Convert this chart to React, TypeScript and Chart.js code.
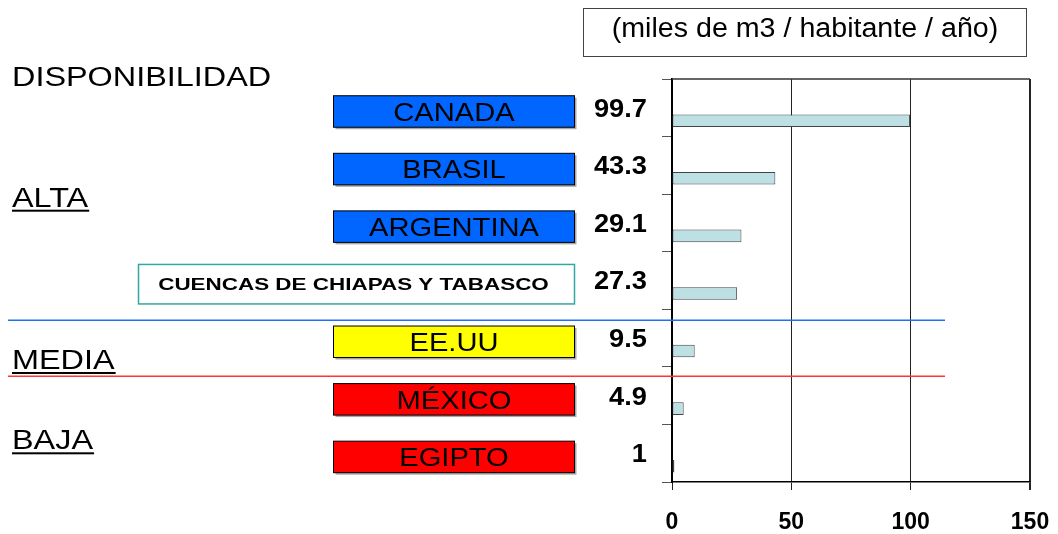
import React, { useEffect, useRef } from 'react';
import { Chart, registerables } from 'chart.js';

Chart.register(...registerables);

// ---- data ----
const categories = [
  'CANADA',
  'BRASIL',
  'ARGENTINA',
  'CUENCAS DE CHIAPAS Y TABASCO',
  'EE.UU',
  'MÉXICO',
  'EGIPTO',
];
const values = [99.7, 43.3, 29.1, 27.3, 9.5, 4.9, 1];
const valueLabels = ['99.7', '43.3', '29.1', '27.3', '9.5', '4.9', '1'];
const boxFills = ['#0066ff', '#0066ff', '#0066ff', '#ffffff', '#ffff00', '#ff0000', '#ff0000'];
const xTickValues = [0, 50, 100, 150];
const unitsLabel = '(miles de m3 / habitante / año)';
const titleLabel = 'DISPONIBILIDAD';
const groupLabels = ['ALTA', 'MEDIA', 'BAJA'];

const FONT = '"Liberation Sans", Arial, Helvetica, sans-serif';

function drawText(
  ctx: CanvasRenderingContext2D,
  text: string,
  x: number,
  y: number,
  size: number,
  bold: boolean,
  align: CanvasTextAlign,
  sx: number,
  color = '#000'
) {
  ctx.save();
  ctx.font = `${bold ? 'bold ' : ''}${size}px ${FONT}`;
  ctx.textAlign = align;
  ctx.textBaseline = 'alphabetic';
  ctx.fillStyle = color;
  ctx.translate(x, y);
  ctx.scale(sx, 1);
  ctx.fillText(text, 0, 0);
  const w = ctx.measureText(text).width * sx;
  ctx.restore();
  return w;
}

const decorPlugin = {
  id: 'decor',
  afterDraw(chart: any) {
    const { ctx, chartArea } = chart;
    const y = chart.scales.y;
    const band = y.getPixelForValue(1) - y.getPixelForValue(0);
    ctx.save();

    // top border of plot
    ctx.strokeStyle = '#333';
    ctx.lineWidth = 1.5;
    ctx.beginPath();
    ctx.moveTo(chartArea.left, chartArea.top);
    ctx.lineTo(chartArea.right, chartArea.top);
    ctx.stroke();

    // units box
    ctx.strokeStyle = '#444';
    ctx.lineWidth = 1;
    ctx.strokeRect(583.5, 8.5, 443, 48);
    drawText(ctx, unitsLabel, 805, 37, 27, false, 'center', 1.06);

    // left labels
    drawText(ctx, titleLabel, 12, 86, 27, false, 'left', 1.2);
    const groupBaselines = [206.7, 369, 449.3];
    groupLabels.forEach((g, i) => {
      const w = drawText(ctx, g, 12, groupBaselines[i], 27, false, 'left', 1.2);
      ctx.fillStyle = '#000';
      ctx.fillRect(12, groupBaselines[i] + 3, w + 1, 2);
    });

    // category boxes
    categories.forEach((c, i) => {
      const cy = y.getPixelForValue(i) + 3.7;
      if (boxFills[i] === '#ffffff') {
        const x0 = 138.5, x1 = 574.5, h = 39.5;
        ctx.fillStyle = '#ffffff';
        ctx.fillRect(x0, cy - h / 2, x1 - x0, h);
        ctx.strokeStyle = '#2fa8a2';
        ctx.lineWidth = 1.5;
        ctx.strokeRect(x0, cy - h / 2, x1 - x0, h);
        drawText(ctx, c, 353.5, cy + 17 * 0.358, 17, true, 'center', 1.32);
      } else {
        const x0 = 333.5, x1 = 574.5, h = 31.5;
        ctx.fillStyle = '#a8a8a8';
        ctx.fillRect(x0 + 2, cy - h / 2 + 2, x1 - x0, h);
        ctx.fillStyle = boxFills[i];
        ctx.fillRect(x0, cy - h / 2, x1 - x0, h);
        ctx.strokeStyle = '#000';
        ctx.lineWidth = 1;
        ctx.strokeRect(x0, cy - h / 2, x1 - x0, h);
        drawText(ctx, c, (x0 + x1) / 2, cy + 26 * 0.358, 26, false, 'center', 1.12);
      }
    });

    // value labels
    valueLabels.forEach((v, i) => {
      const cy = y.getPixelForValue(i);
      drawText(ctx, v, chartArea.left - 25, cy + 25 * 0.358, 25, true, 'right', 1.09);
    });

    // separator lines
    const b34 = y.getPixelForValue(3) + band / 2;
    const b45 = y.getPixelForValue(4) + band / 2;
    ctx.lineWidth = 1.5;
    ctx.strokeStyle = '#1f6ff5';
    ctx.beginPath();
    ctx.moveTo(8, b34 + 11);
    ctx.lineTo(945, b34 + 11);
    ctx.stroke();
    ctx.strokeStyle = '#ff3434';
    ctx.beginPath();
    ctx.moveTo(8, b45 + 9.5);
    ctx.lineTo(945, b45 + 9.5);
    ctx.stroke();

    ctx.restore();
  },
};

export default function App() {
  const canvasRef = useRef<HTMLCanvasElement | null>(null);

  useEffect(() => {
    document.body.style.margin = '0';
    const canvas = canvasRef.current;
    if (!canvas) return;
    const chart = new Chart(canvas, {
      type: 'bar',
      data: {
        labels: categories,
        datasets: [
          {
            label: 'spacer',
            data: categories.map(() => null),
            backgroundColor: 'rgba(0,0,0,0)',
          },
          {
            label: 'Disponibilidad',
            data: values,
            backgroundColor: '#bce0e3',
            borderColor: '#444',
            borderWidth: 1,
            borderSkipped: false,
          },
        ],
      },
      options: {
        indexAxis: 'y',
        animation: false,
        responsive: true,
        maintainAspectRatio: false,
        datasets: { bar: { categoryPercentage: 0.9, barPercentage: 0.485 } },
        layout: { padding: { left: 662, right: 28, top: 79, bottom: 0 } },
        plugins: {
          legend: { display: false },
          tooltip: { enabled: false },
          title: { display: false },
        },
        scales: {
          x: {
            type: 'linear',
            min: 0,
            max: 150,
            afterBuildTicks: (scale: any) => {
              scale.ticks = xTickValues.map((v) => ({ value: v }));
            },
            afterFit: (scale: any) => {
              scale.height = 52;
              scale.paddingLeft = 0;
              scale.paddingRight = 0;
            },
            ticks: {
              color: '#000',
              padding: 19,
              font: { family: FONT, size: 23, weight: 'bold' },
            },
            grid: {
              color: '#222',
              lineWidth: (c: any) => (c.tick && c.tick.value === 150 ? 2 : 1),
              tickLength: 8,
              drawOnChartArea: true,
            },
            border: { display: true, color: '#000', width: 1.5 },
          },
          y: {
            type: 'category',
            afterFit: (scale: any) => {
              scale.width = 10;
            },
            ticks: { display: false },
            grid: {
              drawOnChartArea: false,
              drawTicks: true,
              tickLength: 10,
              color: '#555',
              lineWidth: 1,
            },
            border: { display: true, color: '#000', width: 2 },
          },
        },
      },
      plugins: [decorPlugin],
    } as any);
    return () => chart.destroy();
  }, []);

  return (
    <div style={{ width: 1058, height: 534, position: 'relative', background: '#fff' }}>
      <canvas ref={canvasRef} style={{ display: 'block' }} />
    </div>
  );
}
